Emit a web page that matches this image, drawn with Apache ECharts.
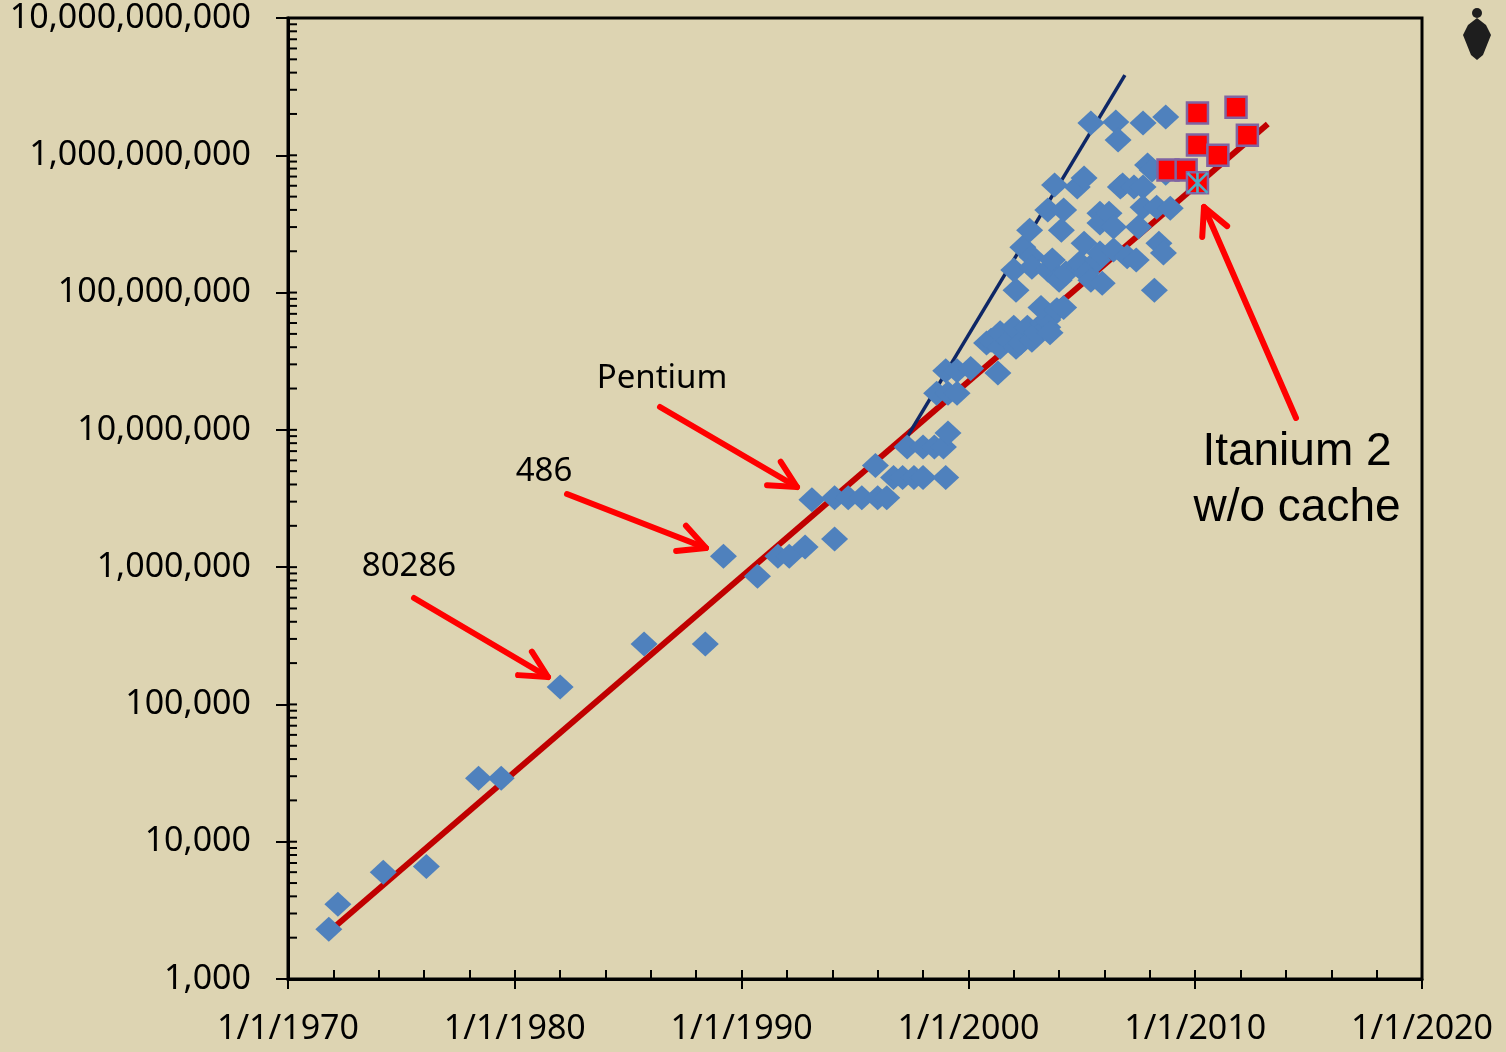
<!DOCTYPE html>
<html>
<head>
<meta charset="utf-8">
<script src="https://cdn.jsdelivr.net/npm/echarts@6/dist/echarts.min.js"></script>
<style>
  html, body { margin: 0; padding: 0; background: #DDD4B2; }
  #main { width: 1506px; height: 1052px; }
</style>
</head>
<body>
<div id="main"></div>
<script>
// transistor counts per chip, [year, count]
var blueChips = [
  [1971.8, 2300], [1972.2, 3500], [1974.2, 6000], [1976.1, 6600], [1978.4, 29000], [1979.4, 29000],
  [1982.0, 134000], [1985.7, 275000], [1988.4, 275000], [1989.2, 1200000], [1990.7, 860000],
  [1991.6, 1200000], [1992.1, 1200000], [1992.8, 1400000], [1993.1, 3100000], [1994.1, 1600000],
  [1994.1, 3200000], [1994.7, 3200000], [1995.3, 3200000], [1995.9, 5500000], [1996.0, 3200000],
  [1996.4, 3200000],
  [1996.7, 4500000], [1997.1, 4500000], [1997.6, 4500000], [1998.0, 4500000], [1999.0, 4500000],
  [1997.3, 7500000], [1998.0, 7500000], [1998.5, 7500000], [1998.9, 7500000], [1999.1, 9500000],
  [1998.6, 18500000], [1999.1, 18500000], [1999.5, 18500000],
  [1999.0, 27000000], [1999.5, 27000000], [2000.1, 28000000], [2001.3, 26000000],
  [2000.8, 43000000], [2001.0, 45000000], [2001.4, 40000000], [2001.4, 51000000], [2001.8, 45000000],
  [2002.0, 56000000], [2002.1, 40000000], [2002.3, 43000000], [2002.6, 56000000], [2002.8, 45000000],
  [2003.0, 51000000], [2003.3, 60000000], [2003.5, 56000000], [2003.5, 63000000], [2003.6, 51000000],
  [2003.2, 78000000], [2003.9, 75000000], [2004.2, 78000000],
  [2002.1, 104000000], [2002.0, 146000000], [2002.4, 214000000], [2002.8, 182000000], [2002.8, 153000000],
  [2003.5, 146000000], [2003.7, 173000000], [2004.0, 130000000], [2004.0, 123000000], [2004.3, 139000000],
  [2004.9, 153000000], [2004.9, 164000000], [2005.1, 229000000], [2005.2, 139000000], [2005.4, 123000000],
  [2005.7, 173000000], [2005.8, 194000000], [2005.9, 117000000], [2006.4, 204000000], [2007.0, 182000000],
  [2007.4, 173000000], [2008.2, 104000000], [2008.4, 229000000], [2008.6, 194000000],
  [2002.7, 285000000], [2003.5, 399000000], [2004.1, 285000000], [2004.2, 399000000], [2003.8, 607000000],
  [2004.8, 587000000], [2005.1, 682000000], [2005.8, 379000000], [2005.8, 321000000], [2006.2, 379000000],
  [2006.4, 300000000], [2006.7, 587000000], [2006.8, 607000000], [2007.3, 587000000], [2007.5, 300000000],
  [2007.7, 587000000], [2007.7, 419000000], [2007.9, 849000000], [2008.1, 780000000], [2008.3, 419000000],
  [2008.9, 412000000], [2008.7, 740000000],
  [2005.4, 1720000000], [2006.5, 1750000000], [2006.6, 1290000000], [2007.7, 1720000000], [2008.7, 1900000000]
];

var redChips = [
  [2010.1, 2030000000], [2011.8, 2240000000], [2012.3, 1400000000], [2010.1, 1190000000],
  [2011.0, 1000000000], [2008.8, 780000000], [2009.6, 780000000], [2010.1, 630000000]
];

var itaniumNoCache = [[2010.1, 630000000]];

var trendLine = [[1972.1, 2430], [2013.2, 1690000000]];
var steepLine = [[1997.3, 8900000], [2006.9, 3840000000]];

var yearTicks = [1970, 1980, 1990, 2000, 2010, 2020];

var font = "'Noto Sans', 'Open Sans', sans-serif";
var chart = echarts.init(document.getElementById('main'));

chart.setOption({
  backgroundColor: '#DDD4B2',
  animation: false,
  grid: { left: 288, right: 84, top: 18, bottom: 73, show: true, borderColor: '#000', borderWidth: 3 },
  xAxis: [
    {
      type: 'value', min: yearTicks[0], max: yearTicks[yearTicks.length - 1], interval: 10, position: 'bottom',
      axisLine: { show: true, onZero: false, lineStyle: { color: '#000', width: 3 } },
      axisTick: { show: true, inside: true, length: 9, lineStyle: { color: '#000', width: 2 } },
      minorTick: { show: true, splitNumber: 5, length: 9, lineStyle: { color: '#000', width: 2 } },
      splitLine: { show: false },
      axisLabel: { margin: 33, fontSize: 34, color: '#000', fontFamily: font, formatter: function (v) { return '1/1/' + v; } }
    },
    {
      type: 'value', min: yearTicks[0], max: yearTicks[yearTicks.length - 1], interval: 10, position: 'bottom',
      axisLine: { show: false, onZero: false },
      axisTick: { show: true, length: 10, lineStyle: { color: '#000', width: 2 } },
      splitLine: { show: false },
      axisLabel: { show: false }
    }
  ],
  yAxis: {
    type: 'log', logBase: 10, min: 1000, max: 10000000000,
    axisLine: { show: true, lineStyle: { color: '#000', width: 3 } },
    axisTick: { show: true, length: 12, lineStyle: { color: '#000', width: 2 } },
    splitLine: { show: false },
    axisLabel: { margin: 37, fontSize: 34, color: '#000', fontFamily: font,
      formatter: function (v) { return Math.round(v).toLocaleString('en-US'); } }
  },
  series: [
    { type: 'line', data: trendLine, symbol: 'none', z: 2,
      lineStyle: { color: '#C00000', width: 6 } },
    { type: 'line', data: steepLine, symbol: 'none', z: 2,
      lineStyle: { color: '#0E2766', width: 3.5 } },
    { type: 'scatter', data: blueChips, symbol: 'diamond', symbolSize: [27, 25], z: 3,
      itemStyle: { color: '#4F81BD', opacity: 1 } },
    { type: 'scatter', data: redChips, symbol: 'rect', symbolSize: 21, z: 4,
      itemStyle: { color: '#FF0000', borderColor: '#8064A2', borderWidth: 2.5, opacity: 1 } },
    { type: 'scatter', data: itaniumNoCache, symbol: 'path://M0,0L10,10M10,0L0,10M5,0L5,10', symbolSize: 20, z: 5,
      itemStyle: { color: 'transparent', borderColor: '#4BACC6', borderWidth: 2.6, opacity: 1 } }
  ]
});

// inside y ticks (log minor ticks + inner half of majors)
var graphics = [];
var axisX = 288;
for (var p = 3; p <= 10; p++) {
  for (var k = 1; k <= 9; k++) {
    if (p === 10 && k > 1) break;
    var py = chart.convertToPixel({ yAxisIndex: 0 }, k * Math.pow(10, p));
    graphics.push({ type: 'line', shape: { x1: axisX, y1: py, x2: axisX + 9, y2: py },
      style: { stroke: '#000', lineWidth: 2 }, z: 10 });
  }
}

function arrow(x1, y1, x2, y2) {
  var a = Math.atan2(y2 - y1, x2 - x1), L = 30, s = 0.47;
  var style = { stroke: '#FF0000', lineWidth: 6, lineCap: 'round', lineJoin: 'round', fill: null };
  graphics.push({ type: 'line', shape: { x1: x1, y1: y1, x2: x2, y2: y2 }, style: style, z: 20 });
  graphics.push({ type: 'polyline', z: 20, style: style, shape: { points: [
    [x2 - L * Math.cos(a - s), y2 - L * Math.sin(a - s)], [x2, y2],
    [x2 - L * Math.cos(a + s), y2 - L * Math.sin(a + s)]] } });
}
arrow(660, 407, 797, 487);
arrow(567, 494, 706, 548);
arrow(414, 598, 548, 677);
arrow(1296, 418, 1204, 207);

function label(txt, x, y, f) {
  graphics.push({ type: 'text', x: x, y: y, z: 20,
    style: { text: txt, font: f, fill: '#000', align: 'center', verticalAlign: 'middle' } });
}
label('Pentium', 662, 379, "33px 'Noto Sans'");
label('486', 544, 472, "33px 'Noto Sans'");
label('80286', 409, 567, "33px 'Noto Sans'");
label('Itanium 2', 1297, 452, "46px 'Liberation Sans'");
label('w/o cache', 1297, 508, "46px 'Liberation Sans'");

// little bug emblem top right
graphics.push({ type: 'circle', shape: { cx: 1477, cy: 13, r: 5 }, style: { fill: '#1E1E1E' }, z: 20 });
graphics.push({ type: 'polygon', z: 20, style: { fill: '#1E1E1E' }, shape: { points: [
  [1477, 18], [1486, 25], [1491, 35], [1487, 45], [1483, 55], [1477, 60], [1471, 55], [1467, 45], [1463, 35], [1468, 25]] } });

chart.setOption({ graphic: graphics });
</script>
</body>
</html>
